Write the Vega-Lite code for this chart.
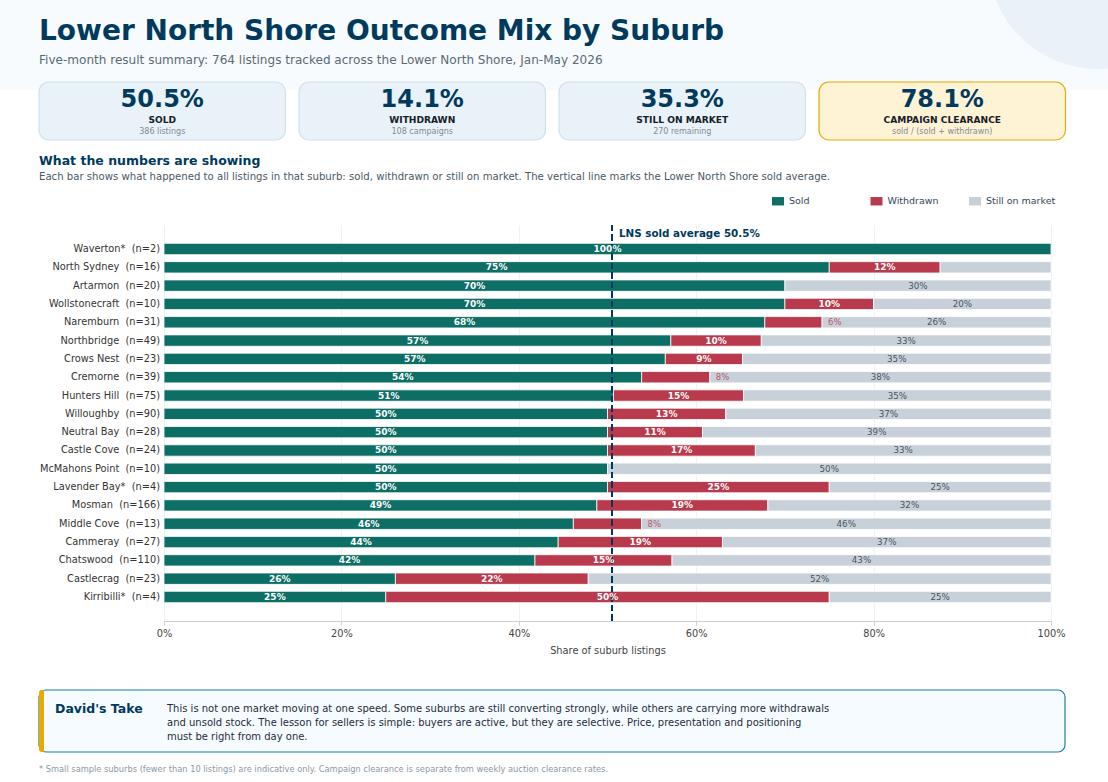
{
  "$schema": "https://vega.github.io/schema/vega-lite/v6.json",
  "padding": 0,
  "background": "white",
  "bounds": "flush",
  "spacing": 0,
  "config": {
    "font": "DejaVu Sans",
    "view": {"stroke": null}
  },
  "vconcat": [
    {
      "width": 1108,
      "height": 225,
      "resolve": {"scale": {"x": "independent", "y": "independent", "fill": "independent", "stroke": "independent"}},
      "layer": [
        {
          "data": {"values": [{"part": "band"}]},
          "mark": {"type": "rect", "fill": "#f7fbfd"},
          "encoding": {
            "y": {"field": "part", "type": "nominal", "axis": null, "scale": {"domain": ["band"], "range": [0, 90], "padding": 0}}
          }
        },
        {
          "data": {"values": [{"part": "circle"}]},
          "mark": {"type": "point", "filled": true, "clip": true, "fill": "#e9f2f8", "opacity": 1, "size": 48400},
          "encoding": {
            "x": {"datum": 0.991, "type": "quantitative", "axis": null, "scale": {"domain": [0, 1], "nice": false, "zero": false}},
            "y": {"datum": -0.183, "type": "quantitative", "axis": null, "scale": {"domain": [0, 1], "range": [0, 224], "nice": false, "zero": false}}
          }
        },
        {
          "data": {"name": "cards", "values": [
            {"label": "SOLD", "value": "50.5%", "note": "386 listings"},
            {"label": "WITHDRAWN", "value": "14.1%", "note": "108 campaigns"},
            {"label": "STILL ON MARKET", "value": "35.3%", "note": "270 remaining"},
            {"label": "CAMPAIGN CLEARANCE", "value": "78.1%", "note": "sold / (sold + withdrawn)"}
          ]},
          "layer": [
            {
              "mark": {"type": "rect", "cornerRadius": 10, "strokeWidth": 1.2},
              "encoding": {
                "x": {"field": "label", "type": "nominal", "sort": null, "axis": null, "scale": {"type": "band", "range": [39, 1065.5], "paddingInner": 0.052, "paddingOuter": 0}},
                "y": {"datum": "card", "type": "nominal", "axis": null, "scale": {"domain": ["card"], "range": [82, 140], "padding": 0}},
                "fill": {"field": "label", "legend": null, "scale": {"domain": ["SOLD", "WITHDRAWN", "STILL ON MARKET", "CAMPAIGN CLEARANCE"], "range": ["#e8f2f8", "#e8f2f8", "#e8f2f8", "#fff3d6"]}},
                "stroke": {"field": "label", "legend": null, "scale": {"domain": ["SOLD", "WITHDRAWN", "STILL ON MARKET", "CAMPAIGN CLEARANCE"], "range": ["#cfe2ec", "#cfe2ec", "#cfe2ec", "#e5ab00"]}}
              }
            },
            {
              "mark": {"type": "text", "fontSize": 24, "fontWeight": "bold", "color": "#003a5c"},
              "encoding": {
                "x": {"field": "label", "type": "nominal", "sort": null, "axis": null, "scale": {"type": "band", "range": [39, 1065.5], "paddingInner": 0.052, "paddingOuter": 0}},
                "y": {"datum": "value", "type": "nominal", "axis": null, "scale": {"domain": ["value"], "range": [99.5, 99.5]}},
                "text": {"field": "value"}
              }
            },
            {
              "mark": {"type": "text", "fontSize": 9.1, "fontWeight": "bold", "color": "#17202a"},
              "encoding": {
                "x": {"field": "label", "type": "nominal", "sort": null, "axis": null, "scale": {"type": "band", "range": [39, 1065.5], "paddingInner": 0.052, "paddingOuter": 0}},
                "y": {"datum": "label", "type": "nominal", "axis": null, "scale": {"domain": ["label"], "range": [119.5, 119.5]}},
                "text": {"field": "label"}
              }
            },
            {
              "mark": {"type": "text", "fontSize": 8, "color": "#7f8c96"},
              "encoding": {
                "x": {"field": "label", "type": "nominal", "sort": null, "axis": null, "scale": {"type": "band", "range": [39, 1065.5], "paddingInner": 0.052, "paddingOuter": 0}},
                "y": {"datum": "note", "type": "nominal", "axis": null, "scale": {"domain": ["note"], "range": [132, 132]}},
                "text": {"field": "note"}
              }
            }
          ],
          "resolve": {"scale": {"x": "independent", "y": "independent", "fill": "independent", "stroke": "independent"}}
        },
        {
          "data": {"values": [{"text": "Lower North Shore Outcome Mix by Suburb"}]},
          "mark": {"type": "text", "align": "left", "fontSize": 28, "fontWeight": "bold", "color": "#003a5c"},
          "encoding": {
            "x": {"datum": "margin", "type": "nominal", "axis": null, "scale": {"domain": ["margin"], "range": [39, 39]}},
            "y": {"datum": "title", "type": "nominal", "axis": null, "scale": {"domain": ["title"], "range": [32, 32]}},
            "text": {"field": "text"}
          }
        },
        {
          "data": {"values": [{"text": "Five-month result summary: 764 listings tracked across the Lower North Shore, Jan-May 2026"}]},
          "mark": {"type": "text", "align": "left", "fontSize": 12.05, "color": "#5a6a76"},
          "encoding": {
            "x": {"datum": "margin", "type": "nominal", "axis": null, "scale": {"domain": ["margin"], "range": [39, 39]}},
            "y": {"datum": "subtitle", "type": "nominal", "axis": null, "scale": {"domain": ["subtitle"], "range": [60, 60]}},
            "text": {"field": "text"}
          }
        },
        {
          "data": {"values": [{"text": "What the numbers are showing"}]},
          "mark": {"type": "text", "align": "left", "fontSize": 12.5, "fontWeight": "bold", "color": "#003a5c"},
          "encoding": {
            "x": {"datum": "margin", "type": "nominal", "axis": null, "scale": {"domain": ["margin"], "range": [39, 39]}},
            "y": {"datum": "heading", "type": "nominal", "axis": null, "scale": {"domain": ["heading"], "range": [160.5, 160.5]}},
            "text": {"field": "text"}
          }
        },
        {
          "data": {"values": [{"text": "Each bar shows what happened to all listings in that suburb: sold, withdrawn or still on market. The vertical line marks the Lower North Shore sold average."}]},
          "mark": {"type": "text", "align": "left", "fontSize": 10.13, "color": "#4a5864"},
          "encoding": {
            "x": {"datum": "margin", "type": "nominal", "axis": null, "scale": {"domain": ["margin"], "range": [39, 39]}},
            "y": {"datum": "intro", "type": "nominal", "axis": null, "scale": {"domain": ["intro"], "range": [177, 177]}},
            "text": {"field": "text"}
          }
        }
      ]
    },
    {
      "width": 1108,
      "height": 396,
      "data": {"values": [
        {"suburb": "Waverton* \u00a0(n=2)", "outcome": "Sold", "seq": 1, "share": 100, "label": "100%"},
        {"suburb": "North Sydney \u00a0(n=16)", "outcome": "Sold", "seq": 1, "share": 75, "label": "75%"},
        {"suburb": "North Sydney \u00a0(n=16)", "outcome": "Withdrawn", "seq": 2, "share": 12.5, "label": "12%"},
        {"suburb": "North Sydney \u00a0(n=16)", "outcome": "Still on market", "seq": 3, "share": 12.5, "label": "12%"},
        {"suburb": "Artarmon \u00a0(n=20)", "outcome": "Sold", "seq": 1, "share": 70, "label": "70%"},
        {"suburb": "Artarmon \u00a0(n=20)", "outcome": "Still on market", "seq": 3, "share": 30, "label": "30%"},
        {"suburb": "Wollstonecraft \u00a0(n=10)", "outcome": "Sold", "seq": 1, "share": 70, "label": "70%"},
        {"suburb": "Wollstonecraft \u00a0(n=10)", "outcome": "Withdrawn", "seq": 2, "share": 10, "label": "10%"},
        {"suburb": "Wollstonecraft \u00a0(n=10)", "outcome": "Still on market", "seq": 3, "share": 20, "label": "20%"},
        {"suburb": "Naremburn \u00a0(n=31)", "outcome": "Sold", "seq": 1, "share": 67.74, "label": "68%"},
        {"suburb": "Naremburn \u00a0(n=31)", "outcome": "Withdrawn", "seq": 2, "share": 6.45, "label": "6%"},
        {"suburb": "Naremburn \u00a0(n=31)", "outcome": "Still on market", "seq": 3, "share": 25.81, "label": "26%"},
        {"suburb": "Northbridge \u00a0(n=49)", "outcome": "Sold", "seq": 1, "share": 57.14, "label": "57%"},
        {"suburb": "Northbridge \u00a0(n=49)", "outcome": "Withdrawn", "seq": 2, "share": 10.2, "label": "10%"},
        {"suburb": "Northbridge \u00a0(n=49)", "outcome": "Still on market", "seq": 3, "share": 32.65, "label": "33%"},
        {"suburb": "Crows Nest \u00a0(n=23)", "outcome": "Sold", "seq": 1, "share": 56.52, "label": "57%"},
        {"suburb": "Crows Nest \u00a0(n=23)", "outcome": "Withdrawn", "seq": 2, "share": 8.7, "label": "9%"},
        {"suburb": "Crows Nest \u00a0(n=23)", "outcome": "Still on market", "seq": 3, "share": 34.78, "label": "35%"},
        {"suburb": "Cremorne \u00a0(n=39)", "outcome": "Sold", "seq": 1, "share": 53.85, "label": "54%"},
        {"suburb": "Cremorne \u00a0(n=39)", "outcome": "Withdrawn", "seq": 2, "share": 7.69, "label": "8%"},
        {"suburb": "Cremorne \u00a0(n=39)", "outcome": "Still on market", "seq": 3, "share": 38.46, "label": "38%"},
        {"suburb": "Hunters Hill \u00a0(n=75)", "outcome": "Sold", "seq": 1, "share": 50.67, "label": "51%"},
        {"suburb": "Hunters Hill \u00a0(n=75)", "outcome": "Withdrawn", "seq": 2, "share": 14.67, "label": "15%"},
        {"suburb": "Hunters Hill \u00a0(n=75)", "outcome": "Still on market", "seq": 3, "share": 34.67, "label": "35%"},
        {"suburb": "Willoughby \u00a0(n=90)", "outcome": "Sold", "seq": 1, "share": 50, "label": "50%"},
        {"suburb": "Willoughby \u00a0(n=90)", "outcome": "Withdrawn", "seq": 2, "share": 13.33, "label": "13%"},
        {"suburb": "Willoughby \u00a0(n=90)", "outcome": "Still on market", "seq": 3, "share": 36.67, "label": "37%"},
        {"suburb": "Neutral Bay \u00a0(n=28)", "outcome": "Sold", "seq": 1, "share": 50, "label": "50%"},
        {"suburb": "Neutral Bay \u00a0(n=28)", "outcome": "Withdrawn", "seq": 2, "share": 10.71, "label": "11%"},
        {"suburb": "Neutral Bay \u00a0(n=28)", "outcome": "Still on market", "seq": 3, "share": 39.29, "label": "39%"},
        {"suburb": "Castle Cove \u00a0(n=24)", "outcome": "Sold", "seq": 1, "share": 50, "label": "50%"},
        {"suburb": "Castle Cove \u00a0(n=24)", "outcome": "Withdrawn", "seq": 2, "share": 16.67, "label": "17%"},
        {"suburb": "Castle Cove \u00a0(n=24)", "outcome": "Still on market", "seq": 3, "share": 33.33, "label": "33%"},
        {"suburb": "McMahons Point \u00a0(n=10)", "outcome": "Sold", "seq": 1, "share": 50, "label": "50%"},
        {"suburb": "McMahons Point \u00a0(n=10)", "outcome": "Still on market", "seq": 3, "share": 50, "label": "50%"},
        {"suburb": "Lavender Bay* \u00a0(n=4)", "outcome": "Sold", "seq": 1, "share": 50, "label": "50%"},
        {"suburb": "Lavender Bay* \u00a0(n=4)", "outcome": "Withdrawn", "seq": 2, "share": 25, "label": "25%"},
        {"suburb": "Lavender Bay* \u00a0(n=4)", "outcome": "Still on market", "seq": 3, "share": 25, "label": "25%"},
        {"suburb": "Mosman \u00a0(n=166)", "outcome": "Sold", "seq": 1, "share": 48.8, "label": "49%"},
        {"suburb": "Mosman \u00a0(n=166)", "outcome": "Withdrawn", "seq": 2, "share": 19.28, "label": "19%"},
        {"suburb": "Mosman \u00a0(n=166)", "outcome": "Still on market", "seq": 3, "share": 31.93, "label": "32%"},
        {"suburb": "Middle Cove \u00a0(n=13)", "outcome": "Sold", "seq": 1, "share": 46.15, "label": "46%"},
        {"suburb": "Middle Cove \u00a0(n=13)", "outcome": "Withdrawn", "seq": 2, "share": 7.69, "label": "8%"},
        {"suburb": "Middle Cove \u00a0(n=13)", "outcome": "Still on market", "seq": 3, "share": 46.15, "label": "46%"},
        {"suburb": "Cammeray \u00a0(n=27)", "outcome": "Sold", "seq": 1, "share": 44.44, "label": "44%"},
        {"suburb": "Cammeray \u00a0(n=27)", "outcome": "Withdrawn", "seq": 2, "share": 18.52, "label": "19%"},
        {"suburb": "Cammeray \u00a0(n=27)", "outcome": "Still on market", "seq": 3, "share": 37.04, "label": "37%"},
        {"suburb": "Chatswood \u00a0(n=110)", "outcome": "Sold", "seq": 1, "share": 41.82, "label": "42%"},
        {"suburb": "Chatswood \u00a0(n=110)", "outcome": "Withdrawn", "seq": 2, "share": 15.45, "label": "15%"},
        {"suburb": "Chatswood \u00a0(n=110)", "outcome": "Still on market", "seq": 3, "share": 42.73, "label": "43%"},
        {"suburb": "Castlecrag \u00a0(n=23)", "outcome": "Sold", "seq": 1, "share": 26.09, "label": "26%"},
        {"suburb": "Castlecrag \u00a0(n=23)", "outcome": "Withdrawn", "seq": 2, "share": 21.74, "label": "22%"},
        {"suburb": "Castlecrag \u00a0(n=23)", "outcome": "Still on market", "seq": 3, "share": 52.17, "label": "52%"},
        {"suburb": "Kirribilli* \u00a0(n=4)", "outcome": "Sold", "seq": 1, "share": 25, "label": "25%"},
        {"suburb": "Kirribilli* \u00a0(n=4)", "outcome": "Withdrawn", "seq": 2, "share": 50, "label": "50%"},
        {"suburb": "Kirribilli* \u00a0(n=4)", "outcome": "Still on market", "seq": 3, "share": 25, "label": "25%"}
      ]},
      "encoding": {
        "y": {
          "field": "suburb",
          "type": "nominal",
          "sort": null,
          "title": null,
          "scale": {"paddingInner": 0.38, "paddingOuter": 1},
          "axis": {"offset": -164, "ticks": false, "domain": false, "labelPadding": 4.5, "labelFontSize": 9.8, "labelColor": "#333333", "labelLimit": 200}
        }
      },
      "layer": [
        {
          "mark": {"type": "bar", "stroke": "white", "strokeWidth": 0.8},
          "encoding": {
            "x": {
              "field": "share",
              "type": "quantitative",
              "stack": "zero",
              "title": "Share of suburb listings",
              "scale": {"domain": [0, 100], "range": [164, 1051], "nice": false},
              "axis": {"values": [0, 20, 40, 60, 80, 100], "labelExpr": "datum.value + '%'", "labelFlush": false, "gridColor": "#eef1f5", "domainColor": "#c8d0d8", "tickColor": "#c8d0d8", "tickSize": 4, "labelFontSize": 9.8, "labelColor": "#444444", "labelPadding": 3, "titleFontSize": 9.8, "titleFontWeight": "normal", "titleColor": "#444444", "titlePadding": 8}
            },
            "color": {
              "field": "outcome",
              "type": "nominal",
              "title": null,
              "scale": {"domain": ["Sold", "Withdrawn", "Still on market"], "range": ["#0d6e66", "#b83a4c", "#c8d1d9"]},
              "legend": {"orient": "none", "legendX": 772, "legendY": 195, "direction": "horizontal", "columns": 3, "gridAlign": "all", "columnPadding": 11.5, "symbolType": "M-1,-0.7H1V0.7H-1Z", "symbolSize": 144, "symbolStrokeWidth": 0, "symbolOffset": 0, "labelFontSize": 9.5, "labelColor": "#33475b", "labelOffset": 5}
            },
            "order": {"field": "seq"}
          }
        },
        {
          "mark": {"type": "rule", "color": "#003a5c", "strokeWidth": 1.2, "strokeDash": [6, 3.5]},
          "encoding": {
            "x": {"datum": 50.5, "type": "quantitative"},
            "y": null
          }
        },
        {
          "mark": {"type": "text", "color": "white", "fontSize": 9, "fontWeight": "bold"},
          "encoding": {
            "x": {"field": "share", "type": "quantitative", "stack": "zero", "bandPosition": 0.5},
            "detail": {"field": "outcome"},
            "order": {"field": "seq"},
            "text": {"condition": {"test": "datum.outcome != 'Still on market' && datum.share >= 8", "field": "label"}, "value": ""}
          }
        },
        {
          "mark": {"type": "text", "color": "#4a5560", "fontSize": 8.7},
          "encoding": {
            "x": {"field": "share", "type": "quantitative", "stack": "zero", "bandPosition": 0.5},
            "detail": {"field": "outcome"},
            "order": {"field": "seq"},
            "text": {"condition": {"test": "datum.outcome == 'Still on market' && datum.share >= 15", "field": "label"}, "value": ""}
          }
        },
        {
          "mark": {"type": "text", "color": "#b83a4c", "opacity": 0.8, "fontSize": 8.5, "align": "left", "dx": 6},
          "encoding": {
            "x": {"field": "share", "type": "quantitative", "stack": "zero", "bandPosition": 1},
            "detail": {"field": "outcome"},
            "order": {"field": "seq"},
            "text": {"condition": {"test": "datum.outcome == 'Withdrawn' && datum.share < 8", "field": "label"}, "value": ""}
          }
        },
        {
          "data": {"values": [{"text": "LNS sold average 50.5%"}]},
          "mark": {"type": "text", "align": "left", "dx": 7, "dy": -15, "color": "#003a5c", "fontSize": 10.35, "fontWeight": "bold"},
          "encoding": {
            "x": {"datum": 50.5, "type": "quantitative"},
            "y": {"datum": "Waverton* \u00a0(n=2)", "type": "nominal"},
            "text": {"field": "text"}
          }
        }
      ]
    },
    {
      "width": 1108,
      "height": 161,
      "resolve": {"scale": {"x": "independent", "y": "independent"}},
      "layer": [
        {
          "data": {"values": [{"part": "take"}]},
          "mark": {"type": "rect", "fill": "#f5fbff", "stroke": "#1a7ea6", "strokeWidth": 1.2, "cornerRadius": 7},
          "encoding": {
            "x": {"field": "part", "type": "nominal", "axis": null, "scale": {"domain": ["take"], "range": [39, 1065], "padding": 0}},
            "y": {"field": "part", "type": "nominal", "axis": null, "scale": {"domain": ["take"], "range": [69, 131], "padding": 0}}
          }
        },
        {
          "data": {"values": [{"part": "accent"}]},
          "mark": {"type": "rect", "fill": "#e5ab00", "cornerRadiusTopLeft": 5, "cornerRadiusBottomLeft": 5},
          "encoding": {
            "x": {"field": "part", "type": "nominal", "axis": null, "scale": {"domain": ["accent"], "range": [39, 44], "padding": 0}},
            "y": {"field": "part", "type": "nominal", "axis": null, "scale": {"domain": ["accent"], "range": [69, 131], "padding": 0}}
          }
        },
        {
          "data": {"values": [{"text": "David's Take"}]},
          "mark": {"type": "text", "align": "left", "fontSize": 12.5, "fontWeight": "bold", "color": "#003a5c"},
          "encoding": {
            "x": {"datum": "margin", "type": "nominal", "axis": null, "scale": {"domain": ["margin"], "range": [55, 55]}},
            "y": {"datum": "head", "type": "nominal", "axis": null, "scale": {"domain": ["head"], "range": [88, 88]}},
            "text": {"field": "text"}
          }
        },
        {
          "data": {"values": [
            {"line": "one", "text": "This is not one market moving at one speed. Some suburbs are still converting strongly, while others are carrying more withdrawals"},
            {"line": "two", "text": "and unsold stock. The lesson for sellers is simple: buyers are active, but they are selective. Price, presentation and positioning"},
            {"line": "three", "text": "must be right from day one."}
          ]},
          "mark": {"type": "text", "align": "left", "fontSize": 10, "color": "#1f2d3a"},
          "encoding": {
            "x": {"datum": "margin", "type": "nominal", "axis": null, "scale": {"domain": ["margin"], "range": [167, 167]}},
            "y": {"field": "line", "type": "nominal", "axis": null, "scale": {"domain": ["one", "two", "three"], "range": [88, 116], "padding": 0}},
            "text": {"field": "text"}
          }
        },
        {
          "data": {"values": [{"text": "* Small sample suburbs (fewer than 10 listings) are indicative only. Campaign clearance is separate from weekly auction clearance rates."}]},
          "mark": {"type": "text", "align": "left", "fontSize": 8.27, "color": "#8b98a3"},
          "encoding": {
            "x": {"datum": "margin", "type": "nominal", "axis": null, "scale": {"domain": ["margin"], "range": [39, 39]}},
            "y": {"datum": "foot", "type": "nominal", "axis": null, "scale": {"domain": ["foot"], "range": [149, 149]}},
            "text": {"field": "text"}
          }
        }
      ]
    }
  ]
}
